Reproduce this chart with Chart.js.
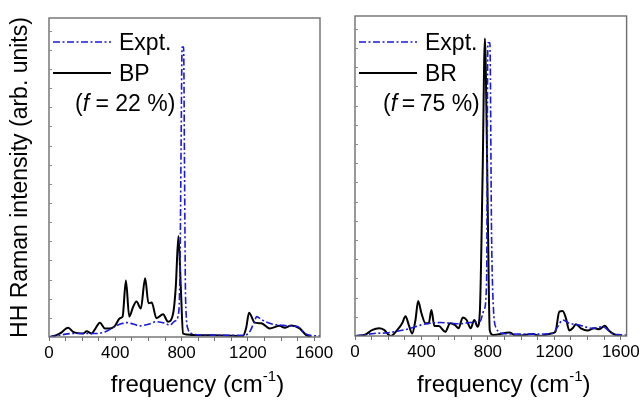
<!DOCTYPE html>
<html>
<head>
<meta charset="utf-8">
<script src="https://cdn.jsdelivr.net/npm/chart.js@4"></script>
<style>
  html, body { margin: 0; padding: 0; background: #fff; }
  #wrap { position: relative; width: 642px; height: 401px; }
  .box { position: absolute; top: 0; height: 401px; }
</style>
</head>
<body>
<div id="wrap">
  <div class="box" style="left:0;width:340px"><canvas id="c1"></canvas></div>
  <div class="box" style="left:340px;width:302px"><canvas id="c2"></canvas></div>
</div>
<script>
// ---- data (frequency in cm^-1, intensity in arb. units) ----
const xTicksMajor = [0, 400, 800, 1200, 1600];

const exptLeftFreq = [0, 50, 100, 146, 200, 287, 347, 398, 440, 467, 500, 548, 600, 648, 700, 728, 760, 778, 790, 797, 803, 812, 818, 824, 840, 860, 900, 1000, 1100, 1180, 1215, 1240, 1253, 1280, 1350, 1400, 1440, 1500, 1540, 1570, 1600, 1635];
const exptLeftInt  = [0, 0.004, 0.009, 0.011, 0.011, 0.011, 0.018, 0.033, 0.042, 0.045, 0.042, 0.035, 0.04, 0.048, 0.043, 0.037, 0.05, 0.064, 0.2, 0.6, 0.909, 0.909, 0.5, 0.12, 0.023, 0.011, 0.007, 0.006, 0.005, 0.005, 0.02, 0.05, 0.064, 0.055, 0.04, 0.037, 0.035, 0.033, 0.013, 0.006, 0.004, 0.004];

const bpFreq = [0, 30, 66, 116, 146, 207, 227, 257, 277, 307, 337, 367, 398, 428, 444, 464, 484, 508, 528, 554, 580, 600, 620, 648, 688, 718, 749, 765, 781, 795, 809, 830, 869, 1050, 1170, 1190, 1207, 1241, 1281, 1331, 1392, 1422, 1462, 1512, 1552, 1582];
const bpInt  = [0, 0.003, 0.011, 0.029, 0.016, 0.011, 0.018, 0.011, 0.024, 0.045, 0.027, 0.027, 0.035, 0.059, 0.064, 0.177, 0.064, 0.095, 0.111, 0.089, 0.184, 0.106, 0.108, 0.059, 0.071, 0.048, 0.074, 0.158, 0.317, 0.158, 0.011, 0.008, 0.006, 0.005, 0.003, 0.03, 0.076, 0.045, 0.043, 0.027, 0.035, 0.029, 0.036, 0.027, 0.006, 0];

const exptRightFreq = [0, 60, 115, 195, 255, 334, 394, 454, 513, 573, 633, 692, 752, 776, 792, 800, 812, 822, 832, 851, 891, 1000, 1100, 1190, 1220, 1250, 1290, 1350, 1430, 1490, 1548, 1600, 1635];
const exptRightInt  = [0, 0.004, 0.008, 0.01, 0.015, 0.024, 0.034, 0.04, 0.042, 0.04, 0.038, 0.042, 0.045, 0.081, 0.165, 0.916, 0.916, 0.32, 0.1, 0.024, 0.008, 0.006, 0.006, 0.008, 0.029, 0.05, 0.04, 0.034, 0.024, 0.029, 0.008, 0.004, 0.003];

const brFreq = [0, 56, 105, 145, 175, 215, 255, 284, 304, 324, 344, 364, 380, 400, 424, 444, 460, 478, 504, 543, 573, 603, 623, 649, 672, 696, 718, 738, 752, 768, 782, 794, 801, 811, 831, 931, 971, 1070, 1110, 1180, 1206, 1230, 1250, 1270, 1290, 1310, 1330, 1360, 1400, 1440, 1470, 1504, 1528, 1568, 1608];
const brInt  = [0, 0.003, 0.019, 0.024, 0.019, 0, 0.019, 0.04, 0.062, 0.034, 0.008, 0.05, 0.109, 0.071, 0.04, 0.04, 0.081, 0.031, 0.031, 0.013, 0.04, 0.034, 0.024, 0.058, 0.05, 0.024, 0.05, 0.029, 0.081, 0.5, 0.93, 0.6, 0.32, 0.019, 0.003, 0.011, 0, 0.006, 0, 0.008, 0.013, 0.076, 0.078, 0.055, 0.017, 0.024, 0.037, 0.024, 0.017, 0.024, 0.021, 0.032, 0.017, 0.003, 0];

const legendLabels = { expt: 'Expt.', left: 'BP', right: 'BR' };
const fractionLeft = '22';
const fractionRight = '75';

// ---- helpers ----
const toPts = (xs, ys) => xs.map((x, i) => ({ x: x, y: ys[i] }));
const BLUE = '#1a1adc';
const FONT = '"Liberation Sans", Arial, sans-serif';
const DASH = [7, 2.5, 2, 2.5];

function decorPlugin(opts) {
  return {
    id: 'decor',
    afterDraw(chart) {
      const ctx = chart.ctx;
      const a = chart.chartArea;
      const y = chart.scales.y;
      ctx.save();
      // frame
      ctx.strokeStyle = '#6e6e6e';
      ctx.lineWidth = 1.4;
      ctx.strokeRect(a.left, a.top, a.right - a.left, a.bottom - a.top);
      // inner y ticks
      ctx.strokeStyle = '#8a8a8a';
      ctx.lineWidth = 1;
      for (let v = 0.06; v < 1; v += 0.06) {
        const py = Math.round(y.getPixelForValue(v)) + 0.5;
        ctx.beginPath();
        ctx.moveTo(a.left, py);
        ctx.lineTo(a.left + 3, py);
        ctx.stroke();
      }
      // legend
      const lx0 = a.left + opts.legendDx;
      const lx1 = lx0 + 58;
      ctx.lineWidth = 1.6;
      ctx.strokeStyle = BLUE;
      ctx.setLineDash(DASH);
      ctx.beginPath(); ctx.moveTo(lx0, 42); ctx.lineTo(lx1, 42); ctx.stroke();
      ctx.setLineDash([]);
      ctx.strokeStyle = '#000';
      ctx.lineWidth = 2;
      ctx.beginPath(); ctx.moveTo(lx0, 73); ctx.lineTo(lx1, 73); ctx.stroke();
      ctx.fillStyle = '#000';
      ctx.font = '23px ' + FONT;
      ctx.textBaseline = 'alphabetic';
      ctx.textAlign = 'left';
      ctx.fillText(legendLabels.expt, lx1 + 8, 50);
      ctx.fillText(opts.label, lx1 + 8, 81);
      // (f = xx %)
      let fx = a.left + opts.fracDx;
      const fy = 111;
      const parts = [['(', ''], ['f', 'italic '], [opts.sp + '=' + opts.sp + opts.frac + ' %)', '']];
      parts.forEach(p => {
        ctx.font = p[1] + '23px ' + FONT;
        ctx.fillText(p[0], fx, fy);
        fx += ctx.measureText(p[0]).width;
      });
      // x title with superscript
      const main = 'frequency (cm', sup = '-1', close = ')';
      ctx.font = '24px ' + FONT;
      const w1 = ctx.measureText(main).width;
      const w3 = ctx.measureText(close).width;
      ctx.font = '15px ' + FONT;
      const w2 = ctx.measureText(sup).width;
      const total = w1 + w2 + w3;
      let tx = (a.left + a.right) / 2 + 13 - total / 2;
      ctx.font = '24px ' + FONT;
      ctx.fillText(main, tx, 392);
      ctx.font = '15px ' + FONT;
      ctx.fillText(sup, tx + w1, 381);
      ctx.font = '24px ' + FONT;
      ctx.fillText(close, tx + w1 + w2, 392);
      // y title
      if (opts.yTitle) {
        ctx.translate(27, (a.top + a.bottom) / 2 + 0);
        ctx.rotate(-Math.PI / 2);
        ctx.font = '23px ' + FONT;
        ctx.textAlign = 'center';
        ctx.fillText(opts.yTitle, 0, 0);
      }
      ctx.restore();
    }
  };
}

function makeChart(id, cfg) {
  return new Chart(document.getElementById(id), {
    type: 'line',
    data: {
      datasets: [
        {
          label: legendLabels.expt,
          data: toPts(cfg.exptF, cfg.exptI),
          borderColor: BLUE,
          borderWidth: 1.6,
          borderDash: DASH,
          pointRadius: 0,
          cubicInterpolationMode: 'monotone',
          fill: false
        },
        {
          label: cfg.label,
          data: toPts(cfg.simF, cfg.simI),
          borderColor: '#000',
          borderWidth: 2,
          pointRadius: 0,
          cubicInterpolationMode: 'monotone',
          fill: false
        }
      ]
    },
    options: {
      responsive: true,
      maintainAspectRatio: false,
      animation: false,
      events: [],
      layout: { padding: { top: cfg.top, right: cfg.padRight, left: 0, bottom: 0 } },
      plugins: { legend: { display: false }, tooltip: { enabled: false } },
      scales: {
        x: {
          type: 'linear',
          min: 0,
          max: 1635,
          afterBuildTicks: s => {
            const t = [];
            for (let v = 0; v <= 1600; v += 100) t.push({ value: v });
            s.ticks = t;
          },
          afterFit: s => { s.height = cfg.xH; },
          grid: { drawOnChartArea: false, drawTicks: true, tickLength: 4, color: '#6e6e6e', lineWidth: 1 },
          border: { display: false },
          ticks: {
            autoSkip: false,
            maxRotation: 0,
            padding: 2,
            color: '#000',
            font: { family: FONT, size: 17 },
            callback: v => xTicksMajor.includes(v) ? String(v) : ''
          }
        },
        y: {
          type: 'linear',
          min: 0,
          max: 1,
          afterFit: s => { s.width = cfg.yW; },
          grid: { display: false },
          border: { display: false },
          ticks: { display: false }
        }
      }
    },
    plugins: [decorPlugin(cfg)]
  });
}

makeChart('c1', {
  exptF: exptLeftFreq, exptI: exptLeftInt, simF: bpFreq, simI: bpInt,
  label: legendLabels.left, frac: fractionLeft, sp: ' ',
  top: 18, padRight: 20, xH: 64, yW: 49,
  legendDx: 4, fracDx: 26,
  yTitle: 'HH Raman intensity (arb. units)'
});
makeChart('c2', {
  exptF: exptRightFreq, exptI: exptRightInt, simF: brFreq, simI: brInt,
  label: legendLabels.right, frac: fractionRight, sp: '\u2009',
  top: 16, padRight: 14, xH: 65, yW: 15,
  legendDx: 4, fracDx: 28,
  yTitle: null
});
</script>
</body>
</html>
